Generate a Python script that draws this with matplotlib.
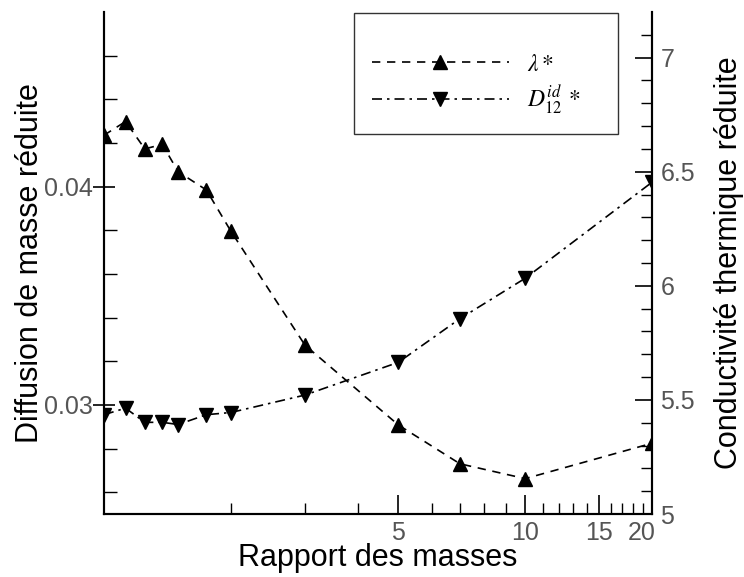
import matplotlib
matplotlib.use("Agg")
import matplotlib.pyplot as plt
from matplotlib.ticker import FixedLocator, NullFormatter, FixedFormatter
from matplotlib.transforms import ScaledTranslation

# mass ratio (x), log scale
ratio = [1.0, 1.125, 1.25, 1.375, 1.5, 1.75, 2.0, 3.0, 5.0, 7.0, 10.0, 20.0]
# reduced thermal conductivity lambda* (right axis)
lam = [6.66, 6.72, 6.60, 6.62, 6.50, 6.42, 6.24, 5.74, 5.39, 5.22, 5.155, 5.31]
# reduced mass diffusion D12* (left axis)
diff = [0.02955, 0.02985, 0.0292, 0.0292, 0.0291, 0.02955, 0.02965,
        0.03045, 0.03195, 0.03395, 0.0358, 0.0402]

x_major = [5, 10, 15, 20]
x_major_labels = ["5", "10", "15", "20"]
x_minor = [2, 3, 4, 6, 7, 8, 9, 11, 12, 13, 14, 16, 17, 18, 19]

plt.rcParams['font.family'] = ['Liberation Sans', 'DejaVu Sans']
plt.rcParams['mathtext.fontset'] = 'stix'

tick_color = '#555555'
lab_size = 22
tick_size = 18

fig = plt.figure(figsize=(7.44, 5.77), dpi=100)
ax = fig.add_axes([104/744, 1 - 514/577, 548/744, 502/577])
ax2 = ax.twinx()

l2, = ax.plot(ratio, diff, color='black', linewidth=1.2, dashes=(6, 3, 1.5, 3),
              marker='v', markersize=10.5, label=r'$D_{12}^{id}\,*$')
l1, = ax2.plot(ratio, lam, color='black', linewidth=1.2, dashes=(5, 4),
               marker='^', markersize=10.5, label=r'$\lambda*$')

ax.set_xscale('log')
ax.set_xlim(1, 20)
ax.set_ylim(0.025, 0.048)
ax2.set_ylim(5.0, 7.2)

ax.xaxis.set_major_locator(FixedLocator(x_major))
ax.xaxis.set_major_formatter(FixedFormatter(x_major_labels))
ax.xaxis.set_minor_locator(FixedLocator(x_minor))
ax.xaxis.set_minor_formatter(NullFormatter())

ax.set_yticks([0.03, 0.04])
ax.set_yticklabels(["0.03", "0.04"])
ax.set_yticks([0.026, 0.028, 0.032, 0.034, 0.036, 0.038, 0.042, 0.044, 0.046], minor=True)
ax2.set_yticks([5, 5.5, 6, 6.5, 7])
ax2.set_yticklabels(["5", "5.5", "6", "6.5", "7"])
ax2.set_yticks([5.1, 5.2, 5.3, 5.4, 5.6, 5.7, 5.8, 5.9, 6.1, 6.2, 6.3, 6.4,
                6.6, 6.7, 6.8, 6.9, 7.1], minor=True)

for a in (ax, ax2):
    a.spines['top'].set_visible(False)
    for s in a.spines.values():
        s.set_linewidth(1.5)

ax.tick_params(axis='x', which='major', direction='in', length=14, width=1.2,
               labelsize=tick_size, labelcolor=tick_color, pad=5)
ax.tick_params(axis='x', which='minor', direction='in', length=8, width=1.0)
ax.tick_params(axis='y', which='major', direction='inout', length=16, width=1.2,
               labelsize=tick_size, labelcolor=tick_color, pad=0)
ax.tick_params(axis='y', which='minor', direction='in', length=9, width=1.0)
ax2.tick_params(axis='y', which='major', direction='in', length=12, width=1.2,
                labelsize=tick_size, labelcolor=tick_color, pad=6)
ax2.tick_params(axis='y', which='minor', direction='in', length=8, width=1.0)

# nudge the "20" label left so it does not sit on the right axis "5"
fig.canvas.draw()
last = ax.xaxis.get_majorticklabels()[-1]
last.set_transform(last.get_transform() + ScaledTranslation(-10/100, 0, fig.dpi_scale_trans))

ax.set_xlabel("Rapport des masses", fontsize=lab_size)
ax.set_ylabel("Diffusion de masse réduite", fontsize=lab_size)
ax2.set_ylabel("Conductivité thermique réduite", fontsize=lab_size)
ax.xaxis.set_label_coords(0.5, -0.058)
ax.yaxis.set_label_coords(-0.108, 0.5)
ax2.yaxis.set_label_coords(1.113, 0.5)

leg = ax2.legend([l1, l2], [l1.get_label(), l2.get_label()],
                 loc='upper left', bbox_to_anchor=(0.456, 0.76, 0.482, 0.238),
                 mode='expand',
                 fontsize=17, handlelength=5.8, numpoints=1, fancybox=False,
                 edgecolor='#333333', borderpad=0.75, labelspacing=0.35,
                 handletextpad=0.8, borderaxespad=0, handleheight=0.9,
                 title=' ', title_fontsize=11)
leg.get_frame().set_linewidth(1.0)
leg.get_frame().set_alpha(1)

fig.savefig("out.png", dpi=100)
